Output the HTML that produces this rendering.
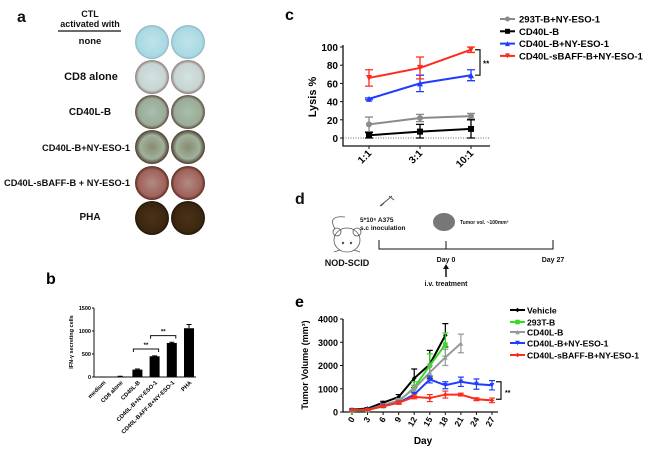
<!DOCTYPE html>
<html><head><meta charset="utf-8"><style>
html,body{margin:0;padding:0;background:#fff}
svg{display:block;font-family:"Liberation Sans",Arial,sans-serif}
</style></head><body>
<svg id="fig" width="650" height="449" viewBox="0 0 650 449">
<defs>
<radialGradient id="gNone"><stop offset="0" stop-color="#bfe3ea"/><stop offset="0.85" stop-color="#a9d9e3"/><stop offset="1" stop-color="#8fb7c0"/></radialGradient>
<radialGradient id="gCD8"><stop offset="0" stop-color="#d2e3e3"/><stop offset="0.8" stop-color="#c7d4d2"/><stop offset="1" stop-color="#8c7b76"/></radialGradient>
<radialGradient id="gB"><stop offset="0" stop-color="#a9bfae"/><stop offset="0.8" stop-color="#9aab98"/><stop offset="1" stop-color="#5d4a3c"/></radialGradient>
<radialGradient id="gNY"><stop offset="0" stop-color="#8a8a70"/><stop offset="0.7" stop-color="#9fb29c"/><stop offset="1" stop-color="#4f3a2c"/></radialGradient>
<radialGradient id="gBAFF"><stop offset="0" stop-color="#b08a80"/><stop offset="0.8" stop-color="#a0625a"/><stop offset="1" stop-color="#5a2a1e"/></radialGradient>
<radialGradient id="gPHA"><stop offset="0" stop-color="#4a3216"/><stop offset="0.85" stop-color="#3a2610"/><stop offset="1" stop-color="#1e140a"/></radialGradient>
</defs>

<!-- Panel a -->
<g font-weight="bold" fill="#111">
<text x="17" y="22" font-size="16">a</text>
<text x="90" y="17" font-size="9" text-anchor="middle">CTL</text>
<text x="90" y="27" font-size="9" text-anchor="middle">activated with</text>
<line x1="58" y1="31" x2="121" y2="31" stroke="#111" stroke-width="1.2"/>
<g text-anchor="middle">
<text x="90" y="44" font-size="9.5">none</text>
<text x="91" y="80" font-size="11">CD8 alone</text>
<text x="90" y="115" font-size="10">CD40L-B</text>
<text x="86" y="151" font-size="9.5" textLength="88" lengthAdjust="spacingAndGlyphs">CD40L-B+NY-ESO-1</text>
<text x="67" y="186" font-size="9.5" textLength="126" lengthAdjust="spacingAndGlyphs">CD40L-sBAFF-B + NY-ESO-1</text>
<text x="90" y="220" font-size="10">PHA</text>
</g>
<g>
<circle cx="152" cy="42" r="17" fill="url(#gNone)"/><circle cx="188" cy="42" r="17" fill="url(#gNone)"/>
<circle cx="152" cy="77" r="17" fill="url(#gCD8)"/><circle cx="188" cy="77" r="17" fill="url(#gCD8)"/>
<circle cx="152" cy="112" r="17" fill="url(#gB)"/><circle cx="188" cy="112" r="17" fill="url(#gB)"/>
<circle cx="152" cy="147" r="17" fill="url(#gNY)"/><circle cx="188" cy="147" r="17" fill="url(#gNY)"/>
<circle cx="152" cy="183" r="17" fill="url(#gBAFF)"/><circle cx="188" cy="183" r="17" fill="url(#gBAFF)"/>
<circle cx="152" cy="218" r="17" fill="url(#gPHA)"/><circle cx="188" cy="218" r="17" fill="url(#gPHA)"/>
</g>
</g>

<!-- Panel b -->
<g id="pb">
<text x="46" y="284" font-size="16" font-weight="bold">b</text>
<text transform="translate(73,342) rotate(-90)" font-size="5.5" font-weight="bold" text-anchor="middle">IFN-γ secreting cells</text>
</g>

<!-- Panel c -->
<g id="pc">
<text x="285" y="20" font-size="16" font-weight="bold">c</text>
<text transform="translate(316,97) rotate(-90)" font-size="11" font-weight="bold" text-anchor="middle">Lysis %</text>
</g>

<!-- Panel d -->
<g fill="#111">
<text x="295" y="204" font-size="16" font-weight="bold">d</text>
<g fill="none" stroke="#555" stroke-width="0.8">
<ellipse cx="347" cy="240" rx="13" ry="12"/><circle cx="337" cy="232" r="4"/><circle cx="357" cy="232" r="4"/>
<path d="M335 229 q-8 -14 10 -12"/><path d="M340 250 l-6 2 M354 250 l6 2"/>
<circle cx="343" cy="243" r="0.8" fill="#333"/><circle cx="351" cy="243" r="0.8" fill="#333"/>
</g>
<text x="347" y="266" font-size="9" font-weight="bold" text-anchor="middle">NOD-SCID</text>
<path d="M380 206 l12 -10 M389 196 l5 4 M384 203 l-3 3" stroke="#555" stroke-width="1" fill="none"/>
<text x="360" y="222" font-size="6.5" font-weight="bold">5*10⁶ A375</text>
<text x="360" y="230" font-size="6.5" font-weight="bold">s.c inoculation</text>
<ellipse cx="444" cy="222" rx="11" ry="9" fill="#777"/>
<text x="460" y="224" font-size="5" font-weight="bold">Tumor vol. ~100mm³</text>
<path d="M379 240 V249 H553 V240 M446 249 V241" stroke="#111" stroke-width="1" fill="none"/>
<text x="446" y="262" font-size="7" font-weight="bold" text-anchor="middle">Day 0</text>
<text x="553" y="262" font-size="7" font-weight="bold" text-anchor="middle">Day 27</text>
<path d="M446 277 V268" stroke="#111" stroke-width="1.5"/><path d="M443 269 L446 264 L449 269 Z"/>
<text x="446" y="286" font-size="7" font-weight="bold" text-anchor="middle">i.v. treatment</text>
</g>

<!-- Panel e -->
<g id="pe">
<text x="295" y="307" font-size="16" font-weight="bold">e</text>
<text transform="translate(308,365) rotate(-90)" font-size="9" font-weight="bold" text-anchor="middle">Tumor Volume (mm³)</text>
<text x="423" y="444" font-size="10" font-weight="bold" text-anchor="middle">Day</text>
</g>
</svg>

<script>
// Panel b data
const bCats = ["medium","CD8 alone","CD40L-B","CD40L-B+NY-ESO-1","CD40L-BAFF-B+NY-ESO-1","PHA"];
const bVals = [0,10,160,450,740,1060];
const bErrs = [0,5,15,10,15,80];
const bTicks = [0,500,1000,1500];
// Panel c data
const cCats = ["1:1","3:1","10:1"];
const cNames = ["293T-B+NY-ESO-1","CD40L-B","CD40L-B+NY-ESO-1","CD40L-sBAFF-B+NY-ESO-1"];
const cGray = [15,22,24];
const cBlack = [3,7,10];
const cBlue = [43,60,69];
const cRed = [66,77,97];
const cGrayErr = [8,4,3];
const cBlackErr = [3,8,10];
const cBlueErr = [1,9,6];
const cRedErr = [9,12,3];
const cTicks = [0,20,40,60,80,100];
// Panel e data
const eDays = [0,3,6,9,12,15,18,21,24,27];
const eNames = ["Vehicle"," 293T-B"," CD40L-B","CD40L-B+NY-ESO-1","CD40L-sBAFF-B+NY-ESO-1"];
const eVehicle = [100,150,400,650,1450,2050,3300];
const eVehicleErr = [30,40,60,100,400,600,500];
const e293 = [50,80,250,450,1050,2000,2900];
const e293Err = [20,30,50,80,250,500,500];
const eCD40 = [80,100,300,500,1000,1700,2350,2950];
const eCD40Err = [20,30,50,80,150,300,350,400];
const eBlue = [80,100,250,400,750,1400,1150,1300,1200,1150];
const eBlueErr = [20,30,40,60,100,150,150,200,220,200];
const eRed = [80,100,250,400,650,600,750,750,550,500];
const eRedErr = [20,30,40,60,80,150,150,60,60,100];
const eTicks = [0,1000,2000,3000,4000];

const NS="http://www.w3.org/2000/svg";
function mk(p,tag,attrs,txt){const e=document.createElementNS(NS,tag);for(const k in attrs)e.setAttribute(k,attrs[k]);if(txt!==undefined)e.textContent=txt;p.appendChild(e);return e;}
function marker(g,shape,x,y,c,s){
  let m;
  if(shape==="circle") m=mk(g,"circle",{cx:x,cy:y,r:s,fill:c});
  else if(shape==="square") m=mk(g,"rect",{x:x-s,y:y-s,width:2*s,height:2*s,fill:c});
  else if(shape==="up") m=mk(g,"path",{d:`M${x-s} ${y+s} L${x} ${y-s} L${x+s} ${y+s}Z`,fill:c});
  else if(shape==="down") m=mk(g,"path",{d:`M${x-s} ${y-s} L${x} ${y+s} L${x+s} ${y-s}Z`,fill:c});
  else m=mk(g,"path",{d:`M${x} ${y-s} L${x+s} ${y} L${x} ${y+s} L${x-s} ${y}Z`,fill:c});
  return m;
}

// ---- Panel b
(function(){
  const g=document.getElementById("pb");
  const y0=377,yTop=308,x0=94,x1=196;
  const ys=v=>y0-(v/1500)*(y0-yTop);
  const xs=i=>103+i*17.2;
  mk(g,"path",{d:`M${x0} ${yTop} V${y0} H${x1}`,stroke:"#111",fill:"none","stroke-width":1});
  bTicks.forEach(t=>{
    mk(g,"line",{x1:x0-2,x2:x0,y1:ys(t),y2:ys(t),stroke:"#111"});
    const tl=mk(g,"text",{x:x0-3,y:ys(t)+2,"font-size":5.5,"font-weight":"bold","text-anchor":"end"},t);
    
    
  });
  bCats.forEach((c,i)=>{
    const x=xs(i),w=10;
    const r=mk(g,"rect",{x:x-w/2,y:ys(bVals[i]),width:w,height:Math.max(0.5,y0-ys(bVals[i])),fill:"#000"});
    
    
    const ye=ys(bVals[i]+bErrs[i]);
    mk(g,"path",{d:`M${x} ${ys(bVals[i])} V${ye} M${x-2.5} ${ye} H${x+2.5}`,stroke:"#000","stroke-width":1});
    const tl=mk(g,"text",{transform:`translate(${x+3},${y0+6}) rotate(-45)`,"font-size":5.8,"font-weight":"bold","text-anchor":"end"},c);
    
    
  });
  function brk(i,j,v){
    const y=ys(v);
    mk(g,"path",{d:`M${xs(i)-4} ${y+3} V${y} H${xs(j)+4} V${y+3}`,stroke:"#111",fill:"none"});
    const s=mk(g,"text",{x:(xs(i)+xs(j))/2,y:y-2,"font-size":6,"font-weight":"bold","text-anchor":"middle"},"**");
    
    
  }
  brk(2,3,610); brk(3,4,900);
})();

// ---- Panel c
(function(){
  const g=document.getElementById("pc");
  const x0=343,y0=138,yTop=47,xEnd=490,yAx=146;
  const ys=v=>y0-(v/100)*(y0-yTop);
  const xs=i=>369+i*51;
  mk(g,"path",{d:`M${x0} ${yTop-2} V${yAx} H${xEnd}`,stroke:"#111",fill:"none","stroke-width":1.3});
  mk(g,"line",{x1:x0,x2:xEnd,y1:y0,y2:y0,stroke:"#333","stroke-dasharray":"1,1.5","stroke-width":0.7});
  cTicks.forEach(t=>{
    mk(g,"line",{x1:x0-3,x2:x0,y1:ys(t),y2:ys(t),stroke:"#111"});
    const tl=mk(g,"text",{x:x0-5,y:ys(t)+4,"font-size":10,"font-weight":"bold","text-anchor":"end"},t);
    
    
  });
  cCats.forEach((c,i)=>{
    mk(g,"line",{x1:xs(i),x2:xs(i),y1:yAx,y2:yAx+3,stroke:"#111"});
    const tl=mk(g,"text",{transform:`translate(${xs(i)+3},${yAx+8}) rotate(-45)`,"font-size":10,"font-weight":"bold","text-anchor":"end"},c);
    
    
  });
  const series=[[cGray,cGrayErr,"#8a8a8a","circle"],[cBlack,cBlackErr,"#000","square"],[cBlue,cBlueErr,"#1f3cff","up"],[cRed,cRedErr,"#ff2a1a","down"]];
  series.forEach((s,k)=>{
    const [v,e,col,sh]=s;
    const sg=mk(g,"g",{});
    
    
    v.forEach((d,i)=>{
      const x=xs(i),a=ys(d+e[i]),b=ys(Math.max(d-e[i],0));
      mk(sg,"path",{d:`M${x} ${a} V${b} M${x-4} ${a} H${x+4} M${x-4} ${b} H${x+4}`,stroke:col,"stroke-width":1.3});
    });
    mk(sg,"polyline",{points:v.map((d,i)=>xs(i)+","+ys(d)).join(" "),fill:"none",stroke:col,"stroke-width":2});
    v.forEach((d,i)=>marker(sg,sh,xs(i),ys(d),col,3));
    const ly=19+k*12.3;
    mk(g,"line",{x1:500,x2:515,y1:ly,y2:ly,stroke:col,"stroke-width":2});
    marker(g,sh,507.5,ly,col,2.5);
    const lt=mk(g,"text",{x:519,y:ly+3.5,"font-size":9.5,"font-weight":"bold"},cNames[k]);
    
    
  });
  mk(g,"path",{d:`M475 ${ys(97)} H480 V${ys(69)} H475`,stroke:"#111",fill:"none","stroke-width":1.2});
  const s=mk(g,"text",{x:483,y:ys(83)+4,"font-size":8,"font-weight":"bold"},"**");
  
  
})();

// ---- Panel e
(function(){
  const g=document.getElementById("pe");
  const x0=343,y0=412,yTop=319;
  const ys=v=>y0-(v/4000)*(y0-yTop);
  const xs=d=>352+d*(140/27);
  mk(g,"path",{d:`M${x0} ${yTop} V${y0} H${xs(27)+6}`,stroke:"#111",fill:"none","stroke-width":1.3});
  eTicks.forEach(t=>{
    mk(g,"line",{x1:x0-3,x2:x0,y1:ys(t),y2:ys(t),stroke:"#111"});
    const tl=mk(g,"text",{x:x0-5,y:ys(t)+3.5,"font-size":9,"font-weight":"bold","text-anchor":"end"},t);
    
    
  });
  eDays.forEach(d=>{
    mk(g,"line",{x1:xs(d),x2:xs(d),y1:y0,y2:y0+3,stroke:"#111"});
    const tl=mk(g,"text",{transform:`translate(${xs(d)+3},${y0+7}) rotate(-60)`,"font-size":8.5,"font-weight":"bold","text-anchor":"end"},d);
    
    
  });
  const series=[[eVehicle,eVehicleErr,"#000","diamond"],[e293,e293Err,"#33dd22","square"],[eCD40,eCD40Err,"#999","up"],[eBlue,eBlueErr,"#1f3cff","down"],[eRed,eRedErr,"#ff2a1a","diamond"]];
  series.forEach((s,k)=>{
    const [v,e,col,sh]=s;
    const sg=mk(g,"g",{});
    
    
    v.forEach((d,i)=>{
      const x=xs(eDays[i]),a=ys(d+e[i]),b=ys(Math.max(d-e[i],0));
      mk(sg,"path",{d:`M${x} ${a} V${b} M${x-3} ${a} H${x+3} M${x-3} ${b} H${x+3}`,stroke:col,"stroke-width":1.2});
    });
    mk(sg,"polyline",{points:v.map((d,i)=>xs(eDays[i])+","+ys(d)).join(" "),fill:"none",stroke:col,"stroke-width":2});
    v.forEach((d,i)=>marker(sg,sh,xs(eDays[i]),ys(d),col,2.3));
    const ly=[310,322,332,343,355][k];
    mk(g,"line",{x1:510,x2:525,y1:ly,y2:ly,stroke:col,"stroke-width":2});
    marker(g,sh,517.5,ly,col,2.3);
    const lt=mk(g,"text",{x:527,y:ly+3.5,"font-size":8.6,"font-weight":"bold","xml:space":"preserve"},eNames[k]);
    
    
  });
  mk(g,"path",{d:`M496 ${ys(1300)} H501 V${ys(550)} H496`,stroke:"#111",fill:"none","stroke-width":1.2});
  const s=mk(g,"text",{x:505,y:ys(900)+4,"font-size":7,"font-weight":"bold"},"**");
  
  
})();
</script>
</body></html>
